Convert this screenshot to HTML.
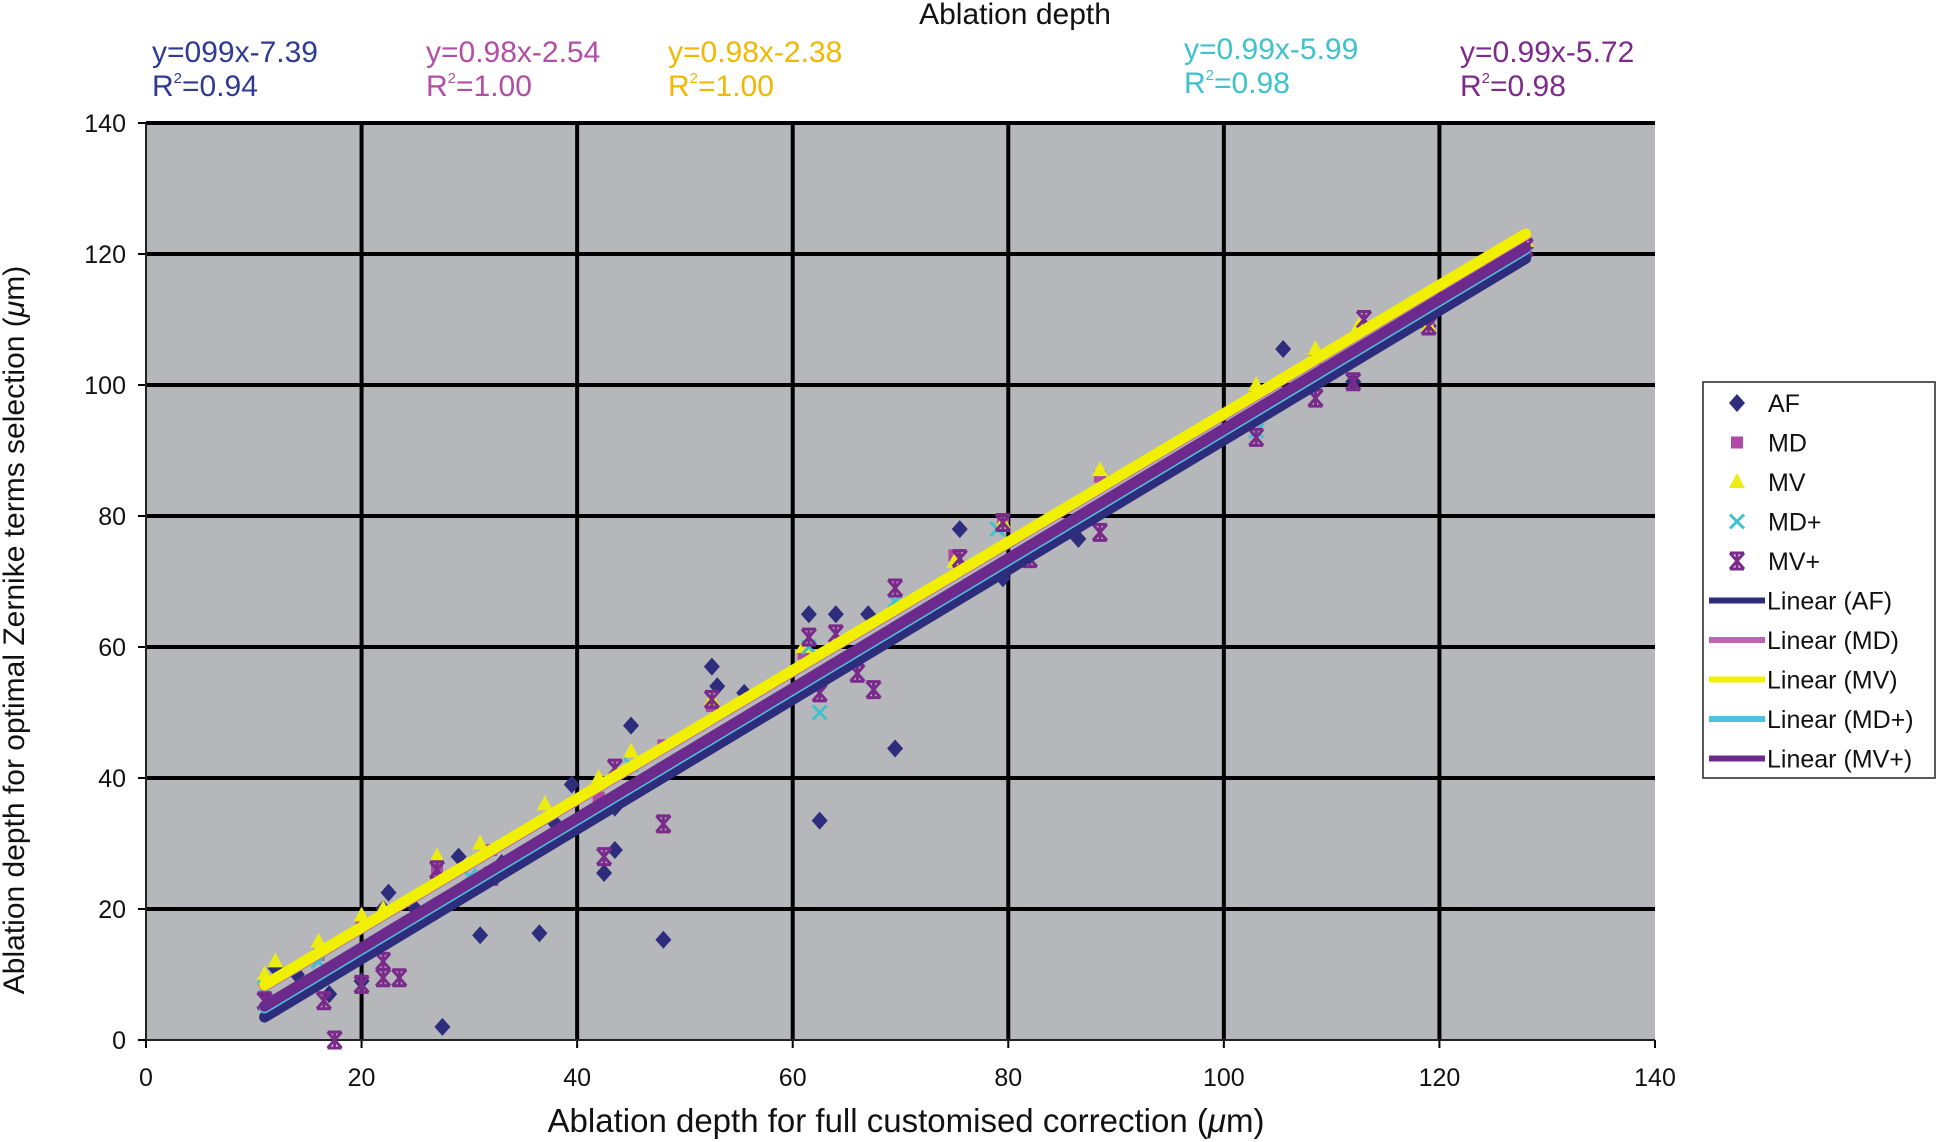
<!DOCTYPE html>
<html><head><meta charset="utf-8">
<style>
html,body{margin:0;padding:0;background:#fff;}
svg{display:block;font-family:"Liberation Sans Narrow","Liberation Sans",sans-serif;}
</style></head>
<body>
<svg id="chart" width="1937" height="1142" viewBox="0 0 1937 1142">
<text x="1015" y="24" font-size="30" text-anchor="middle" fill="#111">Ablation depth</text>
<g fill="#2f3a96" font-size="30"><text x="152" y="62">y=099x-7.39</text><text x="152" y="96">R<tspan font-size="15" dy="-13">2</tspan><tspan dy="13">=0.94</tspan></text></g>
<g fill="#b24ea6" font-size="30"><text x="426" y="62">y=0.98x-2.54</text><text x="426" y="96">R<tspan font-size="15" dy="-13">2</tspan><tspan dy="13">=1.00</tspan></text></g>
<g fill="#f2b800" font-size="30"><text x="668" y="62">y=0.98x-2.38</text><text x="668" y="96">R<tspan font-size="15" dy="-13">2</tspan><tspan dy="13">=1.00</tspan></text></g>
<g fill="#3ec2cc" font-size="30"><text x="1184" y="59">y=0.99x-5.99</text><text x="1184" y="93">R<tspan font-size="15" dy="-13">2</tspan><tspan dy="13">=0.98</tspan></text></g>
<g fill="#7e2a8c" font-size="30"><text x="1460" y="62">y=0.99x-5.72</text><text x="1460" y="96">R<tspan font-size="15" dy="-13">2</tspan><tspan dy="13">=0.98</tspan></text></g>
<text x="0" y="0" font-size="30" text-anchor="middle" fill="#111" transform="translate(24,630) rotate(-90)">Ablation depth for optimal Zernike terms selection (<tspan font-style="italic">μ</tspan>m)</text>
<text x="906" y="1132" font-size="33" text-anchor="middle" fill="#111">Ablation depth for full customised correction (<tspan font-style="italic">μ</tspan>m)</text>
<g id="plot"></g>
<g>
<rect x="1703" y="382" width="232" height="396" fill="#fff" stroke="#222" stroke-width="1.5"/>
<g id="legend"></g>
</g>
</svg>
<script>
const xTicks=[0,20,40,60,80,100,120,140];
const yTicks=[0,20,40,60,80,100,120,140];
const afX=[11,12,14,17,20,22,22.5,25,27.5,29,31,33,36.5,38,39.5,42.5,43.5,43.5,45,48,52.5,53,55.5,61.5,62.5,64,67,69.5,75.5,79.5,86.5,105.5,112,119,128];
const afY=[7,11,10,7,9,20,22.5,20,2,28,16,27,16.3,33,39,25.5,29,35.5,48,15.3,57,54,53,65,33.5,65,65,44.5,78,70.5,76.5,105.5,100.5,109,121];
const mdX=[11,16,20,27,32,42,48,52.5,61,75,79.5,88.5,103,108.5,119,128];
const mdY=[9,13,18,26,29,37,45,51,59,74,79,86,99,104,109,121];
const mvX=[11,12,16,20,22,27,31,37,42,45,52.5,61,67,75,79.5,88.5,103,108.5,112.5,119,128];
const mvY=[10,12,15,19,20,28,30,36,40,44,52,60,60,73,79,87,100,105.5,109,109,122];
const mdpX=[11,16,30,45,61.5,62.5,69.5,79,103];
const mdpY=[8,12,25,42,60,50,67,78,93];
const mvpX=[11,16.5,17.5,20,22,22,23.5,27,32,42.5,43.5,48,52.5,61.5,62.5,64,66,67.5,69.5,75.5,79.5,82,88.5,103,108.5,112,113,119,128];
const mvpY=[6,6,0,8.5,12,9.5,9.5,26,25,28,41.5,33,52,61.5,53,62,56,53.5,69,73.5,79,73.5,77.5,92,98,100.5,110,109,121];
const fitSlopes=[0.99,0.98,0.98,0.99,0.99];
const fitIntercepts=[-7.39,-2.54,-2.38,-5.99,-5.72];
const fitNames=["AF","MD","MV","MD+","MV+"];
const fitRange=[11,128];

const NS="http://www.w3.org/2000/svg";
const X0=146,X1=1655,Y0=1040,Y1=123;
const sx=v=>X0+(v-0)/140*(X1-X0);
const sy=v=>Y0-(v-0)/140*(Y0-Y1);
const plot=document.getElementById('plot');
function mk(tag,attrs,parent){const e=document.createElementNS(NS,tag);for(const k in attrs)e.setAttribute(k,attrs[k]);(parent||plot).appendChild(e);return e;}

const bg=mk('rect',{x:X0,y:Y1,width:X1-X0,height:Y0-Y1,fill:'#b5b7ba'});


xTicks.forEach(t=>{
  if(t>0&&t<140){const l=mk('line',{x1:sx(t),x2:sx(t),y1:Y1,y2:Y0,stroke:'#000','stroke-width':4});
  
  }
  const tk=mk('line',{x1:sx(t),x2:sx(t),y1:Y0,y2:Y0+8,stroke:'#000','stroke-width':2});
  
  
  const tx=mk('text',{x:sx(t),y:1086,'font-size':25,'text-anchor':'middle',fill:'#111'});
  tx.textContent=t;
  
  
});
yTicks.forEach(t=>{
  if(t>0){const l=mk('line',{x1:X0,x2:X1,y1:sy(t),y2:sy(t),stroke:'#000','stroke-width':4});
  
  }
  const tk=mk('line',{x1:X0-8,x2:X0,y1:sy(t),y2:sy(t),stroke:'#000','stroke-width':2});
  
  
  const tx=mk('text',{x:126,y:sy(t)+9,'font-size':25,'text-anchor':'end',fill:'#111'});
  tx.textContent=t;
  
  
});
const axL=mk('line',{x1:X0,x2:X0,y1:Y1,y2:Y0,stroke:'#222','stroke-width':2});


const axB=mk('line',{x1:X0,x2:X1,y1:Y0,y2:Y0,stroke:'#222','stroke-width':2});



function marker(kind,cx,cy,g){
  if(kind==='AF') return mk('polygon',{points:`${cx},${cy-9} ${cx+8},${cy} ${cx},${cy+9} ${cx-8},${cy}`,fill:'#2e2c7c'},g);
  if(kind==='MD') return mk('rect',{x:cx-6,y:cy-6,width:12,height:12,fill:'#b04aa4'},g);
  if(kind==='MV') return mk('polygon',{points:`${cx},${cy-9} ${cx+8},${cy+6} ${cx-8},${cy+6}`,fill:'#ecec10'},g);
  if(kind==='MD+'){const p=mk('path',{d:`M${cx-7},${cy-7}L${cx+7},${cy+7}M${cx+7},${cy-7}L${cx-7},${cy+7}`,stroke:'#3ec2d0','stroke-width':3,fill:'none'},g);return p;}
  return mk('path',{d:`M${cx-7},${cy-8}L${cx+7},${cy+8}M${cx+7},${cy-8}L${cx-7},${cy+8}M${cx-7},${cy-8}L${cx+7},${cy-8}M${cx-7},${cy+8}L${cx+7},${cy+8}M${cx},${cy-8}L${cx},${cy+8}`,stroke:'#7a2a8a','stroke-width':3,fill:'none'},g);
}
const series=[['AF',afX,afY],['MD',mdX,mdY],['MV',mvX,mvY],['MD+',mdpX,mdpY],['MV+',mvpX,mvpY]];
series.forEach(([k,xs,ys])=>{
  xs.forEach((x,i)=>{const m=marker(k,sx(x),sy(ys[i]));
    
    });
});
const fitColors=['#2e2c7c','#b865b4','#f0f000','#4ec4dc','#6c2a8c'];
const fitOrder=[0,3,4,1,2];
fitOrder.forEach(i=>{
  const a=fitRange[0],b=fitRange[1];
  const l=mk('line',{x1:sx(a),y1:sy(fitSlopes[i]*a+fitIntercepts[i]),x2:sx(b),y2:sy(fitSlopes[i]*b+fitIntercepts[i]),stroke:fitColors[i],'stroke-width':11,'stroke-linecap':'round'});
  
  
});
const leg=document.getElementById('legend');
const legNames=['AF','MD','MV','MD+','MV+'];
legNames.forEach((n,i)=>{
  const y=403+i*39.5;
  const m=marker(n,1737,y,leg);
  
  
  const t=mk('text',{x:1768,y:y+9,'font-size':25,fill:'#111'},leg);
  t.textContent=n;
  
  
});
fitNames.forEach((n,i)=>{
  const y=403+(i+5)*39.5;
  const l=mk('line',{x1:1709,x2:1765,y1:y,y2:y,stroke:fitColors[i],'stroke-width':6},leg);
  
  
  const t=mk('text',{x:1767,y:y+9,'font-size':25,fill:'#111'},leg);
  t.textContent='Linear ('+n+')';
  
  
});
</script>
</body></html>
